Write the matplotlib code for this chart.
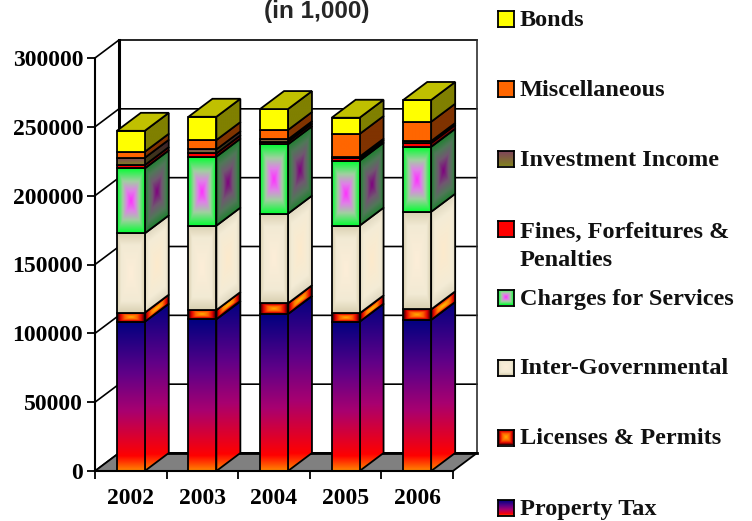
import matplotlib
matplotlib.use('Agg')
import matplotlib.pyplot as plt
from matplotlib.colors import to_rgb
from matplotlib.patches import Polygon
import numpy as np

W, H = 752, 521

years = ['2002', '2003', '2004', '2005', '2006']
y_ticks = [0, 50000, 100000, 150000, 200000, 250000, 300000]

# stacked values, bottom to top
property_tax = [108400, 110200, 114000, 108400, 109700]
licenses = [6600, 6700, 7800, 6100, 7700]
inter_gov = [57600, 61300, 65100, 63700, 70900]
charges = [47200, 50100, 50400, 47200, 47200]
fines = [2400, 2400, 1900, 1600, 2700]
investment = [5300, 2900, 1700, 1300, 1500]
misc = [4400, 6800, 6800, 16500, 14000]
bonds = [15200, 16900, 15200, 11800, 15800]

stack = [property_tax, licenses, inter_gov, charges, fines, investment, misc, bonds]

legend_labels = ['Bonds', 'Miscellaneous', 'Investment Income',
                 'Fines, Forfeitures &\nPenalties', 'Charges for Services',
                 'Inter-Governmental', 'Licenses & Permits', 'Property Tax']
legend_y = [18.5, 88.5, 158.5, 228.5, 297.5, 367.5, 437.5, 507.5]

# gradients: (kind, stops for the front, stops for the side)
# 'v' runs top to bottom, 'box' runs centre to edge
property_stops = [(0, '#000080'), (0.35, '#600088'), (0.6, '#a80070'),
                  (0.9, '#ff0000'), (1, '#ff8800')]
fills = [
    ('v', property_stops, property_stops),
    ('box', [(0, '#ffb000'), (0.45, '#ff6000'), (0.75, '#e00000'), (1, '#200000')],
     [(0, '#ffc000'), (0.45, '#ff8000'), (0.8, '#e00000'), (1, '#300000')]),
    ('box', [(0, '#fdeed8'), (0.7, '#f2ead4'), (1, '#d8cfb0')],
     [(0, '#fdeacc'), (0.7, '#f4ecd6'), (1, '#e0d8c0')]),
    ('box', [(0, '#ff30ff'), (0.3, '#e080e8'), (0.6, '#a0d0a0'), (1, '#00ff30')],
     [(0, '#800080'), (0.4, '#705870'), (0.7, '#507858'), (1, '#1f8030')]),
    ('v', [(0, '#ff0000'), (1, '#ff0000')], [(0, '#800000'), (1, '#800000')]),
    ('v', [(0, '#804060'), (1, '#808020')], [(0, '#402030'), (1, '#404010')]),
    ('v', [(0, '#ff6600'), (1, '#ff6600')], [(0, '#803300'), (1, '#803300')]),
    ('v', [(0, '#ffff00'), (1, '#ffff00')], [(0, '#808000'), (1, '#808000')]),
]
top_color = '#c0c000'

lw = 1.3
serif = 'Liberation Serif'


def ramp(t, stops):
    pos = [s[0] for s in stops]
    cols = np.array([to_rgb(s[1]) for s in stops])
    return np.dstack([np.interp(t, pos, cols[:, i]) for i in range(3)])


def shade(kind, stops, u, v):
    if kind == 'v':
        return ramp(1 - v, stops)
    return ramp(np.maximum(np.abs(2 * u - 1), np.abs(2 * v - 1)), stops)


def face(ax, x0, x1, y0, y1, slope, kind, stops, z):
    # slope is the rise of the face over its width, 0 for the front
    xs = np.linspace(x0, x1, 60)
    top = y1 + slope
    ys = np.linspace(y0, top, 300)
    X, Y = np.meshgrid(xs, ys)
    U = (X - x0) / (x1 - x0)
    if kind == 'v':
        V = (Y - y0) / (top - y0)
    else:
        V = (Y - slope * U - y0) / (y1 - y0)
    im = ax.imshow(shade(kind, stops, U, np.clip(V, 0, 1)), origin='lower',
                   extent=(x0, x1, y0, top), aspect='auto', zorder=z,
                   interpolation='bilinear')
    poly = Polygon([(x0, y0), (x1, y0 + slope), (x1, y1 + slope), (x0, y1)],
                   closed=True, fc='none', ec='black', lw=lw, zorder=z + 0.5,
                   clip_on=False, joinstyle='miter')
    ax.add_patch(poly)
    im.set_clip_path(poly)
    im.set_clip_box(fig.bbox)


fig = plt.figure(figsize=(W / 100, H / 100), dpi=100)
ax = fig.add_axes([95 / W, 1 - 471 / H, (453 - 95) / W, (471 - 58) / H])

bar_w = 0.39
dx = 24 / 71.6
dy = 18 / 413 * 300000

# walls and floor
for t in y_ticks:
    ax.plot([0, dx, 5 + dx], [t, t + dy, t + dy], color='black', lw=1.2,
            clip_on=False, zorder=1, solid_joinstyle='miter')
ax.plot([dx, dx], [0 + dy, 300000 + dy], color='black', lw=2.2, clip_on=False, zorder=1)
ax.plot([5 + dx, 5 + dx], [dy, 300000 + dy], color='#303030', lw=1.2, clip_on=False, zorder=1)
ax.add_patch(Polygon([(0, 0), (5, 0), (5 + dx, dy), (dx, dy)], closed=True, fc='#808080',
                     ec='black', lw=1.3, clip_on=False, zorder=2))
ax.plot([dx, 5 + dx], [dy, dy], color='black', lw=2.0, clip_on=False, zorder=2)

# bars, left to right and bottom to top
z = 3
for i in range(len(years)):
    x0 = i + 0.5 - bar_w / 2
    x1 = x0 + bar_w
    base = 0
    for vals, (kind, front, side) in zip(stack, fills):
        h = vals[i]
        face(ax, x1, x1 + dx, base, base + h, dy, kind, side, z)
        face(ax, x0, x1, base, base + h, 0, kind, front, z + 1)
        z += 2
        base += h
    ax.add_patch(Polygon([(x0, base), (x1, base), (x1 + dx, base + dy), (x0 + dx, base + dy)],
                         closed=True, fc=top_color, ec='black', lw=lw, clip_on=False, zorder=z))
    z += 1

ax.set_xlim(0, 5)
ax.set_ylim(0, 300000)
ax.patch.set_visible(False)
for s in ['top', 'right']:
    ax.spines[s].set_visible(False)
for s in ['left', 'bottom']:
    ax.spines[s].set_linewidth(1.5)
    ax.spines[s].set_zorder(500)
ax.set_xticks(range(6))
ax.set_xticklabels([])
ax.set_xticks(np.arange(5) + 0.5, minor=True)
ax.set_xticklabels(years, minor=True, fontsize=17, family=serif, fontweight='bold')
ax.tick_params(axis='x', which='major', length=6, width=1.3, direction='out')
ax.tick_params(axis='x', which='minor', length=0, pad=12)
ax.set_yticks(y_ticks)
ax.set_yticklabels([str(t) for t in y_ticks], fontsize=17, family=serif, fontweight='bold')
ax.tick_params(axis='y', length=5.5, width=1.3, direction='out', pad=3)

fig.text(317 / W, 1 - 18 / H, '(in 1,000)', ha='center', va='baseline', fontsize=17.5,
         family='Liberation Sans', fontweight='bold', color='#262626')

# legend, swatches use the same gradients as the bars
for lab, yc, (kind, front, side) in zip(legend_labels, legend_y, fills[::-1]):
    sw = fig.add_axes([497.5 / W, 1 - (yc + 8) / H, 16 / W, 16 / H])
    uu, vv = np.meshgrid(np.linspace(0, 1, 32), np.linspace(0, 1, 32))
    sw.imshow(shade(kind, front, uu, vv), origin='lower', aspect='auto', interpolation='bilinear')
    sw.set_xticks([])
    sw.set_yticks([])
    for s in sw.spines.values():
        s.set_linewidth(1.3)
    # baseline of the last line
    base_y = yc + 7 + 30 * lab.count('\n')
    fig.text(519.5 / W, 1 - base_y / H, lab, ha='left', va='baseline', fontsize=17.5,
             family=serif, fontweight='bold', color='#111111', linespacing=1.39)

fig.savefig('out.png', dpi=100)
